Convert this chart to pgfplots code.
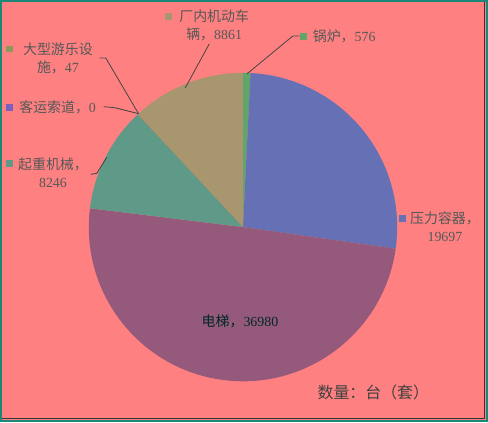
\documentclass[border=0pt]{standalone}
\usepackage{fontspec}
\setmainfont{Liberation Serif}
\newfontfamily\cjk{Noto Sans CJK SC}
\usepackage{pgfplots}
\usepackage{pgfplotstable}
\pgfplotsset{compat=1.18}

\definecolor{bgsalmon}{HTML}{FF8080}
\definecolor{frameteal}{HTML}{1B8778}
\definecolor{slice0}{HTML}{5FA66B}
\definecolor{slice1}{HTML}{6570B5}
\definecolor{slice2}{HTML}{955A7B}
\definecolor{slice3}{HTML}{5F9A88}
\definecolor{slice4}{HTML}{7B5FC0}
\definecolor{slice5}{HTML}{8A9A5A}
\definecolor{slice6}{HTML}{A8966F}
\definecolor{labeltext}{HTML}{555858}
\definecolor{leader}{HTML}{454545}

% quantity of equipment, clockwise from 12 o'clock
\pgfplotstableread{
name value
guolu 576
yali 19697
dianti 36980
qizhong 8246
suodao 0
youle 47
changnei 8861
}\piedata

\newcommand{\keysq}[2]{\node[fill=#1, minimum size=7pt, inner sep=0pt] at (axis cs:#2) {};}

\begin{document}
\begin{tikzpicture}
\begin{axis}[
    width=488pt, height=422pt,
    scale only axis,
    xmin=0, xmax=488, ymin=0, ymax=422,
    y dir=reverse,
    axis lines=box,
    axis line style={frameteal, line width=2.5pt},
    ticks=none,
    axis background/.style={fill=bgsalmon},
    clip=false,
]
\pgfplotsextra{%
  \pgfplotstablegetrowsof{\piedata}%
  \pgfmathtruncatemacro{\lastrow}{\pgfplotsretval-1}%
  \gdef\pietotal{0}%
  \foreach \i in {0,...,\lastrow}{%
    \pgfplotstablegetelem{\i}{value}\of\piedata
    \xdef\pietotal{\fpeval{\pietotal+\pgfplotsretval}}%
  }%
  \gdef\pieangle{90}%
  \foreach \i in {0,...,\lastrow}{%
    \pgfplotstablegetelem{\i}{value}\of\piedata
    \edef\endangle{\fpeval{\pieangle-360*\pgfplotsretval/\pietotal}}%
    \fill[slice\i] (axis cs:243,227) -- ++(\pieangle:155pt)
      arc[start angle=\pieangle, end angle=\endangle, radius=155pt] -- cycle;
    \xdef\pieangle{\endangle}%
  }%
}

% inner dark edge of the frame
\draw[black!80, line width=0.8pt] (axis cs:485.5,1) -- (axis cs:485.5,419.5) -- (axis cs:1,419.5);

% leader lines
\draw[leader, line width=0.8pt] (axis cs:209,43) -- (axis cs:185,87);
\draw[leader, line width=0.8pt] (axis cs:300,35) -- (axis cs:293,35) -- (axis cs:247,73);
\draw[leader, line width=0.8pt] (axis cs:99,57) -- (axis cs:105,57) -- (axis cs:138,113);
\draw[leader, line width=0.8pt] (axis cs:103,106) -- (axis cs:114,107) -- (axis cs:138,113);
\draw[leader, line width=0.8pt] (axis cs:90,174) -- (axis cs:96,173) -- (axis cs:106,157);

% label keys
\keysq{slice6}{168,15}
\keysq{slice0}{304,35}
\keysq{slice5}{8,48}
\keysq{slice4}{8,107}
\keysq{slice3}{8,163}
\keysq{slice1}{403,218}

% data labels
\begin{scope}[every node/.style={text=labeltext, font=\fontsize{14}{18}\selectfont, inner sep=0pt}]
\node[align=center] at (axis cs:214,24) {{\cjk 厂内机动车}\\{\cjk 辆，}8861};
\node[anchor=west] at (axis cs:313,35) {{\cjk 锅炉，}576};
\node[align=center] at (axis cs:57,57) {{\cjk 大型游乐设}\\{\cjk 施，}47};
\node[anchor=west] at (axis cs:18,107) {{\cjk 客运索道，}0};
\node[align=center] at (axis cs:52,172) {{\cjk 起重机械，}\\8246};
\node[align=center] at (axis cs:446,227) {{\cjk 压力容器，}\\19697};
\node[text=black!70!teal] at (axis cs:240,322) {{\cjk 电梯，}36980};
\end{scope}

\node[text=black!75, font=\fontsize{16}{20}\selectfont\cjk, inner sep=0pt] at (axis cs:374,393) {数量：台（套）};
\end{axis}
\end{tikzpicture}
\end{document}
